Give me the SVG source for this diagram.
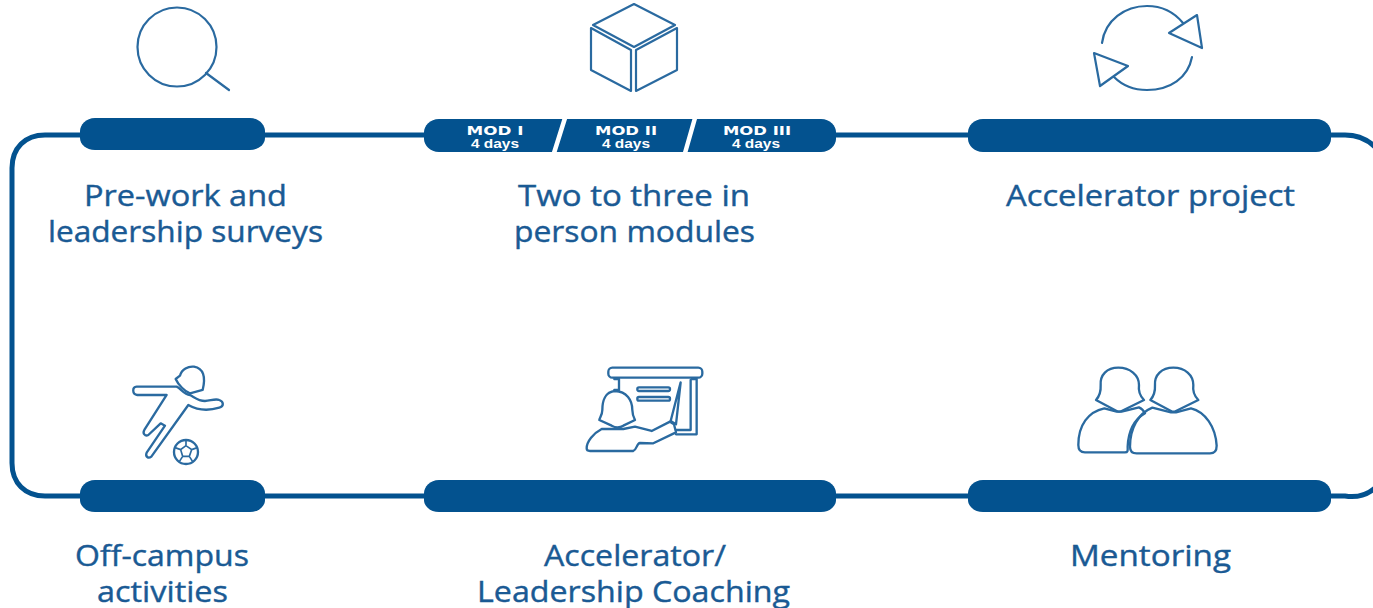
<svg xmlns="http://www.w3.org/2000/svg" width="1373" height="608" viewBox="0 0 1373 608">
<style>
.line{fill:none;stroke:#03528f;stroke-width:5}
.pill{fill:#03528f}
.ic{fill:none;stroke:#2a6aa0;stroke-width:2.2;stroke-linejoin:round;stroke-linecap:round}
.z{fill:none;stroke:#2a6aa0;stroke-width:7;stroke-linejoin:round;stroke-linecap:round}
.t{font-family:"Open Sans","Noto Sans",sans-serif;font-size:29px;fill:#1a5a94;stroke:#1a5a94;stroke-width:.4;text-anchor:middle}
.m{font-family:"DejaVu Sans",sans-serif;font-weight:bold;font-size:11.500px;fill:#fff;text-anchor:middle}
.d{font-family:"Liberation Sans",sans-serif;font-weight:bold;font-size:12.500px;fill:#fff;text-anchor:middle}
.sep{stroke:#fff;stroke-width:4.5}
</style>
<g id="connectors">
<path class="line" d="M80,135H45C25,135 12,148 12,168V463C12,483 25,496 45,496H80"/>
<path class="line" d="M265,135H424M836,135H968M1331,135H1345C1358,135 1368,140 1375,147"/>
<path class="line" d="M265,496H424M836,496H968M1331,496H1345C1358,498 1368,494 1375,488"/>
</g>
<g id="node-prework">
<circle class="ic" cx="177" cy="47" r="39.500"/>
<path class="ic" d="M206,73L229,90"/>
<path class="pill" d="M95,118H250C259,118 265,125 265,131V138C265,144 259,150 250,150H95C86,150 80,144 80,138V131C80,125 86,118 95,118Z"/>
<text class="t" x="185.500" y="205.500" textLength="203" lengthAdjust="spacingAndGlyphs">Pre-work and</text>
<text class="t" x="185.500" y="241.500" textLength="275" lengthAdjust="spacingAndGlyphs">leadership surveys</text>
</g>
<g id="node-modules">
<path class="ic" d="M634,4L675,25L634,47L593,25ZM591,28L631,50V91L591,70ZM677,28L636,50V91L677,70Z"/>
<path class="pill" d="M439,119H821C830,119 836,126 836,132V139C836,145 830,152 821,152H439C430,152 424,145 424,139V132C424,126 430,119 439,119Z"/>
<path class="sep" d="M565,118L554,153M695,118L685,153"/>
<text class="m" x="495" y="134.500" textLength="57" lengthAdjust="spacingAndGlyphs">MOD I</text>
<text class="d" x="495" y="148" textLength="48" lengthAdjust="spacingAndGlyphs">4 days</text>
<text class="m" x="626" y="134.500" textLength="62" lengthAdjust="spacingAndGlyphs">MOD II</text>
<text class="d" x="626" y="148" textLength="48" lengthAdjust="spacingAndGlyphs">4 days</text>
<text class="m" x="757" y="134.500" textLength="68" lengthAdjust="spacingAndGlyphs">MOD III</text>
<text class="d" x="756" y="148" textLength="48" lengthAdjust="spacingAndGlyphs">4 days</text>
<text class="t" x="634" y="205.500" textLength="232" lengthAdjust="spacingAndGlyphs">Two to three in</text>
<text class="t" x="634.500" y="241.500" textLength="241" lengthAdjust="spacingAndGlyphs">person modules</text>
</g>
<g id="node-project">
<path class="ic" d="M1102,43C1105,20 1125,6 1147,6C1162,6 1174,12 1183,23M1192,57C1188,78 1170,90 1147,90C1134,90 1122,85 1114,77"/>
<path class="ic" d="M1197,15L1169,33L1202,48ZM1094,53L1128,66L1100,86Z"/>
<path class="pill" d="M983,119H1316C1325,119 1331,126 1331,132V139C1331,145 1325,152 1316,152H983C974,152 968,145 968,139V132C968,126 974,119 983,119Z"/>
<text class="t" x="1150.500" y="205.500" textLength="289" lengthAdjust="spacingAndGlyphs">Accelerator project</text>
</g>
<g id="node-offcampus">
<g transform="translate(110 355) scale(.3333)">
<path class="z" d="M80,95H200C212,100 222,118 240,120C255,128 265,138 285,138C300,138 315,130 328,135C342,140 342,155 328,158C305,165 270,170 235,150L124,305C115,312 105,305 110,293L165,212L152,205L115,240C105,245 97,235 103,225L170,120H82C66,118 66,96 80,95Z"/>
<path class="z" d="M197,72L210,62C215,42 235,33 252,35C280,40 288,65 278,105L240,115C225,110 205,90 197,72Z"/>
<circle class="z" cx="228" cy="291" r="36"/>
<path d="M228,272L212,284L218,304H238L245,284ZM228,272V256M212,284L195,278M218,304L208,320M238,304L248,320M245,284L262,278" fill="none" stroke="#2a6aa0" stroke-width="5"/>
</g>
<path class="pill" d="M95,480H250C259,480 265,487 265,493V500C265,506 259,512 250,512H95C86,512 80,506 80,500V493C80,487 86,480 95,480Z"/>
<text class="t" x="162" y="565.500" textLength="174" lengthAdjust="spacingAndGlyphs">Off-campus</text>
<text class="t" x="162.500" y="601.500" textLength="131" lengthAdjust="spacingAndGlyphs">activities</text>
</g>
<g id="node-coaching">
<g transform="translate(570 355) scale(.3333)">
<rect class="z" x="115" y="38" width="282" height="30" rx="12"/>
<path class="z" d="M365,72H380V238H318M362,75V225H320M133,72H147V105H133"/>
<rect class="z" x="202" y="97" width="98" height="11" rx="5"/>
<rect class="z" x="202" y="126" width="98" height="11" rx="5"/>
<path class="z" d="M332,82L302,198L318,208Z"/>
<path class="z" d="M135,108C105,110 97,140 97,165C97,180 88,190 88,195L125,212Q143,222 160,212L195,195C190,185 187,175 187,165C187,135 170,110 135,108Z"/>
<path class="z" d="M95,222C70,235 50,260 50,280Q50,288 60,288H190C200,285 200,265 210,264L250,265L318,232L312,208L300,200L245,228L195,215L160,222H125Z"/>
</g>
<path class="pill" d="M439,480H821C830,480 836,487 836,493V500C836,506 830,512 821,512H439C430,512 424,506 424,500V493C424,487 430,480 439,480Z"/>
<text class="t" x="635" y="565.500" textLength="182" lengthAdjust="spacingAndGlyphs">Accelerator/</text>
<text class="t" x="633.500" y="601.500" textLength="313" lengthAdjust="spacingAndGlyphs">Leadership Coaching</text>
</g>
<g id="node-mentoring">
<g transform="translate(1065 355) scale(.3333)">
<path class="z" d="M160,38C125,38 105,60 107,90C108,110 105,122 93,135L155,168Q162,172 170,168L237,135C222,120 220,105 222,90C222,60 195,38 160,38Z"/>
<path class="z" d="M325,38C290,38 268,60 270,90C271,110 268,122 256,135L318,168Q325,172 333,168L400,135C385,120 383,105 385,90C385,60 360,38 325,38Z"/>
<path class="z" d="M118,160C70,170 40,210 40,270Q40,292 60,292H180C190,292 188,285 188,275C190,230 205,195 240,175C235,165 230,160 222,157L170,170H155Z"/>
<path class="z" d="M262,158C220,175 195,220 195,275Q195,295 215,295H435Q455,295 455,272C452,215 420,170 378,160L333,172H318Z"/>
</g>
<path class="pill" d="M983,480H1316C1325,480 1331,487 1331,493V500C1331,506 1325,512 1316,512H983C974,512 968,506 968,500V493C968,487 974,480 983,480Z"/>
<text class="t" x="1150.500" y="565.500" textLength="161" lengthAdjust="spacingAndGlyphs">Mentoring</text>
</g>
</svg>
